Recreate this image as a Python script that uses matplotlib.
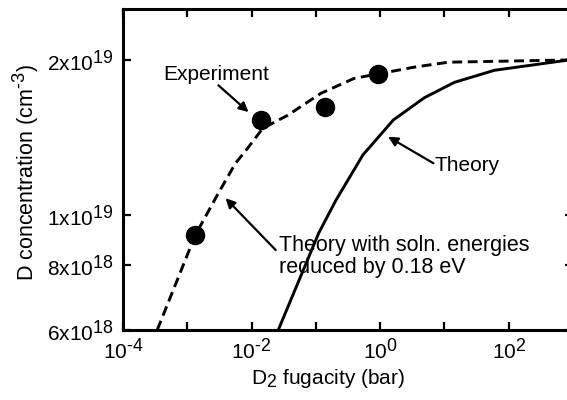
import matplotlib
matplotlib.use('Agg')
import matplotlib.pyplot as plt
import matplotlib._mathtext as mathtext_internal
from matplotlib.ticker import FixedLocator, FixedFormatter, NullLocator

plt.rcParams['font.family'] = 'Liberation Sans'
plt.rcParams['mathtext.fontset'] = 'custom'
plt.rcParams['mathtext.rm'] = 'Liberation Sans'
plt.rcParams['mathtext.it'] = 'Liberation Sans'
plt.rcParams['mathtext.bf'] = 'Liberation Sans'
# exponents in the original are nearly full size
mathtext_internal.SHRINK_FACTOR = 0.85

# experiment points
exp_x = [1.33e-3, 1.38e-2, 0.138, 0.93]
exp_y = [9.16e18, 1.53e19, 1.62e19, 1.88e19]

# theory with solution energies reduced by 0.18 eV (dashed)
red_x = [3.4e-4, 1.33e-3, 3.05e-3, 5.62e-3, 8.66e-3, 0.0149, 0.0365, 0.12,
         0.393, 3.4, 11.5, 870]
red_y = [6.0e18, 9.16e18, 1.105e19, 1.262e19, 1.349e19, 1.474e19, 1.563e19,
         1.724e19, 1.842e19, 1.937e19, 1.98e19, 2.0e19]

# theory (solid)
th_x = [0.026, 0.111, 0.205, 0.54, 1.6, 4.87, 14.3, 60, 870]
th_y = [6.0e18, 9.25e18, 1.07e19, 1.31e19, 1.53e19, 1.69e19, 1.81e19, 1.91e19, 2.0e19]

hy = '\u2010'  # short hyphen, as in the original exponents
xticks = [1e-4, 1e-3, 1e-2, 1e-1, 1e0, 1e1, 1e2, 1e3]
xlabels = ['$10^{' + hy + '4}$', '', '$10^{' + hy + '2}$', '', '$10^{0}$', '',
           '$10^{2}$', '']
yticks = [6e18, 8e18, 1e19, 2e19]
ylabels = ['6x10$^{18}$', '8x10$^{18}$', '1x10$^{19}$', '2x10$^{19}$']

fs = 15

fig = plt.figure(figsize=(5.67, 4.0), dpi=100)
ax = fig.add_axes([0.217, 0.175, 0.7936, 0.8025])

ax.plot(red_x, red_y, 'k--', lw=2.1, dashes=(3.4, 1.9))
ax.plot(th_x, th_y, 'k-', lw=2.1)
ax.plot(exp_x, exp_y, 'ko', ms=13, linestyle='none')

ax.set_xscale('log')
ax.set_yscale('log')
ax.set_xlim(1e-4, 1e3)
ax.set_ylim(6e18, 2.51e19)

ax.xaxis.set_major_locator(FixedLocator(xticks))
ax.xaxis.set_major_formatter(FixedFormatter(xlabels))
ax.xaxis.set_minor_locator(NullLocator())
ax.yaxis.set_major_locator(FixedLocator(yticks))
ax.yaxis.set_major_formatter(FixedFormatter(ylabels))
ax.yaxis.set_minor_locator(NullLocator())

ax.tick_params(direction='in', length=6, width=1.6, top=True, right=True,
               labelsize=fs)
ax.tick_params(axis='y', pad=7)
ax.tick_params(axis='x', pad=5)
for s in ax.spines.values():
    s.set_linewidth(2.2)

ax.set_xlabel('D$_2$ fugacity (bar)', fontsize=fs, labelpad=3, x=0.456)
ax.set_ylabel('D concentration (cm$^{' + hy + '3}$)', fontsize=15.5,
              labelpad=4, y=0.49)

arrow = dict(arrowstyle='-|>', color='k', lw=1.6, mutation_scale=14,
             shrinkA=0, shrinkB=0)

ax.text(2.84e-3, 1.876e19, 'Experiment', fontsize=fs, ha='center', va='center')
ax.annotate('', xy=(8.97e-3, 1.585e19), xytext=(3.05e-3, 1.786e19),
            arrowprops=arrow)

ax.text(6.98, 1.25e19, 'Theory', fontsize=fs, ha='left', va='center')
ax.annotate('', xy=(1.33, 1.42e19), xytext=(6.73, 1.262e19), arrowprops=arrow)

ax.text(0.0264, 8.32e18, 'Theory with soln. energies\nreduced by 0.18 eV',
        fontsize=15.5, ha='left', va='center', linespacing=1.05)
ax.annotate('', xy=(3.93e-3, 1.08e19), xytext=(0.0237, 8.57e18),
            arrowprops=arrow)

fig.savefig('out.png', dpi=100)
